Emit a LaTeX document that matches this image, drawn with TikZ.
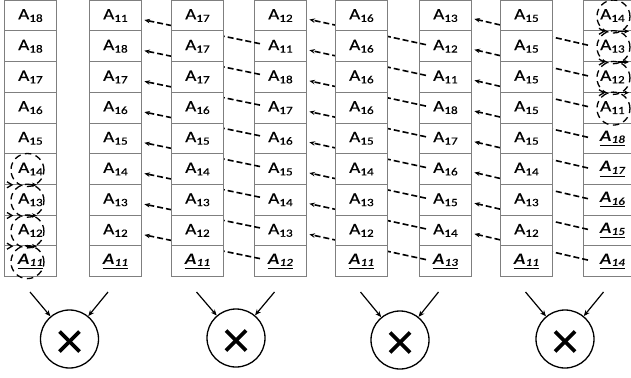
\documentclass[tikz,border=0pt]{standalone}
\usepackage{fontspec}
\setmainfont{Carlito}
\newfontface\cellA{Carlito}[FakeBold=0.4]
\usetikzlibrary{arrows.meta,calc}
\definecolor{boxgray}{HTML}{7F7F7F}
\newcommand\Ax[1]{\scalebox{1.2}[1]{\cellA A\raisebox{-2.5pt}{\fontsize{11}{11}\cellA #1}}}
\newcommand\Au[1]{\scalebox{1.2}[1]{\underline{\textbf{\textit{A\raisebox{-2.5pt}{\fontsize{11}{11}\selectfont #1}}}}}}
\newcommand\drawcol[4][52pt]{\foreach \lab [count=\r] in {#4} {\node[cell,minimum width=#1] (#2r\r) at (#3, {-0.3+(\r-1)*30.7}) {\lab};}}
\newcommand\rotmark[2]{%
  \draw[chev] ([shift={(#2,3pt)}]#1.south west) -- ([shift={(#2+5pt,0pt)}]#1.south west) -- ([shift={(#2,-3pt)}]#1.south west);
  \draw[sarr] ([xshift=#2+19pt]#1.south west) -- ([xshift=#2+30pt]#1.south west);}
\begin{document}
\begin{tikzpicture}[x=1pt,y=-1pt,
  cell/.style={draw=boxgray, line width=0.9pt, fill=white, minimum height=30.7pt,
    inner sep=0pt, anchor=north west, font=\fontsize{16}{18}\selectfont},
  darr/.style={line width=1.6pt, dash pattern=on 6pt off 3pt, -{Stealth[length=5.5pt,width=4.5pt]}},
  dcirc/.style={line width=1.3pt, dash pattern=on 6.5pt off 4.5pt},
  chev/.style={line width=1.3pt},
  sarr/.style={line width=1.3pt, -{Stealth[length=5pt,width=4.5pt]}},
  mult/.style={circle, draw, line width=1.3pt, minimum size=58pt, inner sep=0pt},
  inarr/.style={line width=1.2pt, -{Stealth[length=6pt,width=5pt]}},
  crossl/.style={line width=3.6pt}]
\clip (0,0) rectangle (631,377);
\fill[white] (0,0) rectangle (631,377);
% columns that sit under the dashed links
\drawcol{c1}{4}{\Ax{18},\Ax{18},\Ax{17},\Ax{16},\Ax{15},\Ax{14},\Ax{13},\Ax{12},\Au{11}}
\drawcol{c2}{89}{\Ax{11},\Ax{18},\Ax{17},\Ax{16},\Ax{15},\Ax{14},\Ax{13},\Ax{12},\Au{11}}
\drawcol{c4}{254}{\Ax{12},\Ax{11},\Ax{18},\Ax{17},\Ax{16},\Ax{15},\Ax{14},\Ax{13},\Au{12}}
\drawcol{c6}{419}{\Ax{13},\Ax{12},\Ax{11},\Ax{18},\Ax{17},\Ax{16},\Ax{15},\Ax{14},\Au{13}}
\drawcol[58pt]{c8}{583}{\Ax{14},\Ax{13},\Ax{12},\Ax{11},\Au{18},\Au{17},\Au{16},\Au{15},\Au{14}}
% dashed links
\foreach \i [evaluate=\i as \j using int(\i+1)] in {1,...,8} {
  \draw[darr] ([xshift=6pt,yshift=2.5pt]c4r\j.west) -- ([xshift=2.5pt,yshift=-4.5pt]c2r\i.east);
  \draw[darr] ([xshift=7pt,yshift=1.5pt]c6r\j.west) -- ([xshift=2.5pt,yshift=-4pt]c4r\i.east);
  \draw[darr] ([xshift=5pt,yshift=1pt]c8r\j.west) -- ([xshift=2.5pt,yshift=-3.5pt]c6r\i.east);
}
% columns that hide the links
\drawcol{c3}{171}{\Ax{17},\Ax{17},\Ax{17},\Ax{16},\Ax{15},\Ax{14},\Ax{13},\Ax{12},\Au{11}}
\drawcol{c5}{335}{\Ax{16},\Ax{16},\Ax{16},\Ax{16},\Ax{15},\Ax{14},\Ax{13},\Ax{12},\Au{11}}
\drawcol{c7}{500}{\Ax{15},\Ax{15},\Ax{15},\Ax{15},\Ax{15},\Ax{14},\Ax{13},\Ax{12},\Au{11}}
% dashed circles and rotation marks
\foreach \r in {6,...,9} \draw[dcirc] ([xshift=-3pt,yshift=-1pt]c1r\r.center) circle[radius=16.5pt];
\foreach \r in {1,...,4} \draw[dcirc] ([xshift=1pt,yshift=-1pt]c8r\r.center) circle[radius=16.5pt];
\foreach \r in {6,7,8} {\rotmark{c1r\r}{3pt}}
\foreach \r in {1,2,3} {\rotmark{c8r\r}{16pt}}
% multipliers
\foreach \k/\cx/\cy in {1/69.5/339, 2/236/338, 3/400/340, 4/565/339} {
  \node[mult] (m\k) at (\cx,\cy) {};
  \coordinate (tl\k) at (\cx-39.5,292);
  \coordinate (tr\k) at (\cx+38.5,292);
  \draw[inarr] (tl\k) -- (m\k);
  \draw[inarr] (tr\k) -- (m\k);
  \draw[crossl] ([shift={(-10pt,7.5pt)}]m\k.center) -- ([shift={(10pt,-12.5pt)}]m\k.center);
  \draw[crossl] ([shift={(10pt,7.5pt)}]m\k.center) -- ([shift={(-10pt,-12.5pt)}]m\k.center);
}
\end{tikzpicture}
\end{document}
